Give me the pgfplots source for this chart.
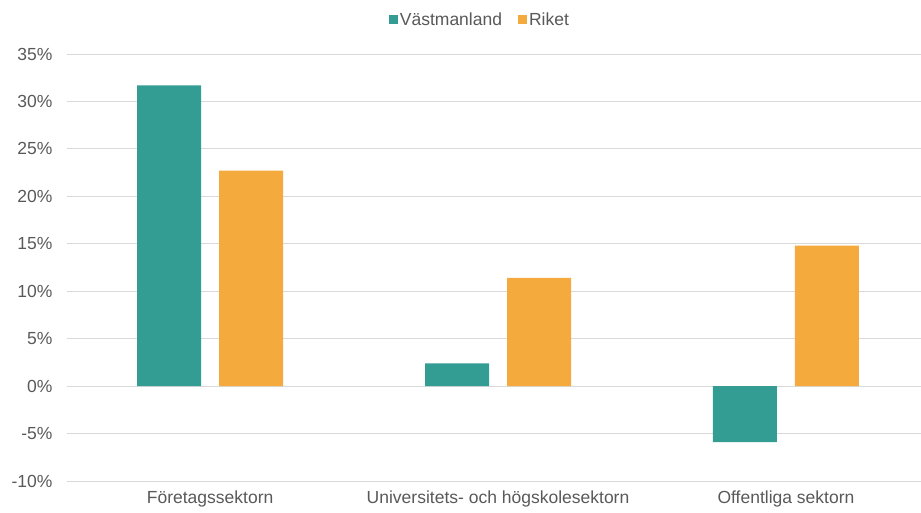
\documentclass[border=0pt]{standalone}
\usepackage{pgfplots}
\pgfplotsset{compat=1.18}
\usepackage{fontspec}
\setmainfont{Liberation Sans}
\definecolor{teal1}{HTML}{339D93}
\definecolor{orange1}{HTML}{F4AA3C}
\definecolor{txt}{HTML}{595959}
\definecolor{grd}{HTML}{D9D9D9}
\begin{document}
\begin{tikzpicture}
\useasboundingbox (0,0) rectangle (921pt,512pt);
\begin{axis}[
  at={(67pt,31pt)}, anchor=south west,
  scale only axis, width=854pt, height=427pt,
  ybar, bar width=64pt,
  xmin=-0.497, xmax=2.469, ymin=-10, ymax=35,
  ytick={-10,-5,...,35},
  xtick=data,
  xticklabels={Företagssektorn, Universitets- och högskolesektorn, Offentliga sektorn},
  yticklabel={\pgfmathprintnumber{\tick}\%},
  /pgf/number format/assume math mode=true,
  axis line style={draw=none},
  major tick length=0pt,
  ymajorgrids, grid style={grd, line width=1pt},
  tick label style={font=\fontsize{17.5}{20}\selectfont, text=txt},
  yticklabel style={xshift=-11pt},
  xticklabel style={yshift=-6pt},
  clip=false,
  legend style={at={(0.4835,1.08)}, anchor=center, draw=none, legend columns=2,
    font=\fontsize{17.5}{20}\selectfont, text=txt,
    /tikz/every even column/.append style={column sep=14pt}},
  legend image code/.code={\fill[#1] (0pt,-4.5pt) rectangle (9pt,4.5pt);},
]
\addplot[fill=teal1, draw=none, bar shift=-41pt] coordinates {(0,31.7) (1,2.4) (2,-5.9)};
\addplot[fill=orange1, draw=none, bar shift=41pt] coordinates {(0,22.7) (1,11.4) (2,14.8)};
\legend{Västmanland, Riket}
\end{axis}
\end{tikzpicture}
\end{document}
